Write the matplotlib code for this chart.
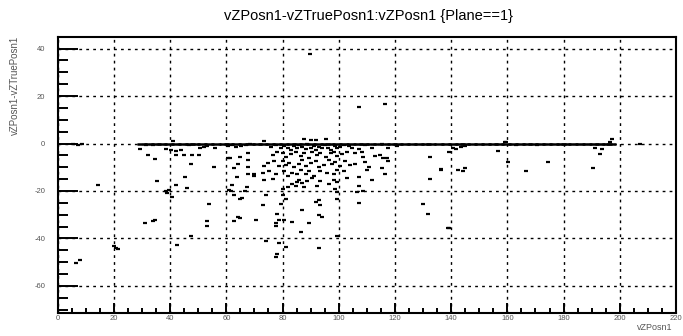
import matplotlib
matplotlib.use('Agg')
import matplotlib.pyplot as plt
from matplotlib.ticker import MultipleLocator

# vZPosn1 (x) vs vZPosn1 - vZTruePosn1 (y), Plane==1
# points sitting on the y=0 band
band_x = [30, 32.5, 35, 37, 39.5, 42, 44.5, 47, 49, 51.5, 54, 56.5, 59, 61, 63.5,
          66, 68.5, 71, 73, 75.5, 78, 80.5, 83, 85, 87.5, 90, 92.5, 95, 97, 99.5,
          102, 104.5, 107, 109, 111.5, 114, 116.5, 119, 121, 123.5, 126, 128.5,
          131, 133, 135.5, 138, 140.5, 143, 145, 147.5, 150, 152.5, 155, 157,
          159.5, 162, 164.5, 167, 169, 171.5, 174, 176.5, 179, 181, 183.5, 186,
          188.5, 191, 193, 195.5, 197]
band_y = [0.0] * len(band_x)

# scattered residuals
pts_x = [29.4, 31.4, 33.8, 32.0, 34.7, 35.3, 38.5, 40.2, 41.0, 42.0, 43.8, 42.0, 44.9,
         46.7, 47.3, 47.9, 50.2, 50.8, 52.0, 53.2, 55.5, 56.0, 45.3, 42.0, 45.9, 38.5,
         39.0, 39.6, 40.8, 53.8, 14.4, 31.2, 33.8, 34.6, 53.2, 53.2, 47.3, 42.6, 19.9,
         20.8, 21.4, 6.5, 8.1,
         60.6, 61.4, 64.9, 67.6, 67.6, 64.1, 62.6, 67.6, 67.6, 63.8, 70.0, 62.0, 67.3,
         66.5, 60.8, 61.8, 62.6, 64.9, 65.5, 64.1, 64.9, 62.6,
         60.6, 62.0, 63.5, 65.2, 67.0, 68.5, 5.5, 7.2, 8.8,
         73.5, 90.0, 95.3, 87.6, 91.8,
         75.9, 77.6, 79.4, 80.6, 81.8, 82.9, 84.1, 85.3, 85.9, 87.1, 88.2, 88.8, 90.0,
         91.2, 91.8, 92.9, 94.1, 95.1, 96.2, 97.4, 98.6, 99.4, 100.6, 101.8, 103.5,
         104.7, 107.1, 109.4, 111.8, 115.3, 117.6, 120.6,
         76.5, 78.2, 80.0, 81.2, 82.9, 84.7, 86.5, 87.6, 89.4, 90.6, 92.4, 93.5, 95.3,
         97.1, 98.2, 99.4, 101.2, 102.9, 105.9, 108.2, 108.8, 112.9, 114.7, 115.9, 117.1,
         73.5, 74.7, 77.1, 78.8, 80.0, 81.2, 82.4, 84.1, 85.9, 87.1, 88.5, 90.0, 91.8,
         92.9, 94.7, 96.5, 97.6, 98.8, 100.6, 102.4, 104.1, 105.9, 109.4, 110.6, 115.3,
         117.4,
         70.0, 72.9, 75.3, 77.6, 80.6, 81.8, 83.5, 85.3, 86.5, 88.2, 89.4, 91.2, 93.5,
         95.9, 98.2, 99.4, 101.8, 107.1, 110.0, 116.5, 132.4, 136.5,
         73.5, 76.5, 80.0, 81.8, 83.5, 84.7, 85.3, 85.9, 87.1, 87.6, 88.8, 90.6, 92.4,
         93.5, 96.5, 98.2, 99.4, 98.8, 99.4, 102.9, 107.1, 111.8, 132.4,
         74.1, 80.0, 79.4, 72.9, 81.2, 87.1, 91.8, 93.5, 92.9, 99.4, 106.5, 108.8, 107.1,
         130.0, 131.8,
         70.6, 78.2, 77.6, 78.8, 77.6, 80.6, 83.5, 89.4, 86.5, 92.9, 94.1, 99.4, 138.8,
         74.1, 78.8, 81.2, 77.6, 92.9, 78.2,
         140.6, 141.8, 143.6, 144.8, 139.4, 156.7, 159.0, 159.6, 163.2, 170.4, 160.2,
         174.5, 136.4, 142.4, 144.2, 144.8, 166.8, 190.6, 191.2, 193.6, 193.0, 197.1,
         196.5, 207.3, 139.4,
         89.6, 107.3, 116.3]
pts_y = [-2.4, -0.5, -0.6, -4.9, -6.5, -16.0, -2.4, -2.8, 1.0, -3.2, -2.8, -4.9, -4.9,
         -0.7, -8.8, -4.9, -4.9, -1.8, -1.4, -1.0, -9.7, -2.0, -14.3, -17.6, -18.8, -20.0,
         -20.8, -19.4, -22.6, -25.4, -17.6, -33.3, -32.6, -32.4, -32.6, -34.7, -38.9, -42.6,
         -43.0, -44.0, -44.4, -50.4, -49.0,
         -6.3, -6.0, -5.5, -4.2, -7.0, -8.8, -10.4, -10.1, -12.9, -14.3, -13.9, -17.6, -18.5,
         -19.9, -19.4, -20.1, -21.5, -23.2, -22.9, -31.0, -31.5, -32.6,
         -1.2, -0.8, -1.5, -1.0, -0.8, -0.4, -0.3, -0.6, -0.3,
         1.0, 1.4, 2.1, 1.8, 1.4,
         -1.4, -0.7, -2.1, -1.0, -1.8, -2.7, -1.0, -2.1, -0.7, -1.4, -2.3, -0.4, -1.8,
         -1.0, -2.7, -1.4, -2.1, -0.7, -1.8, -2.7, -1.0, -2.1, -1.4, -0.7, -1.0,
         -2.1, -2.3, -0.7, -1.8, -0.4, -2.1, -1.0,
         -4.8, -3.4, -4.1, -5.5, -4.5, -3.7, -5.1, -4.1, -5.9, -3.4, -4.8, -4.1, -5.5,
         -4.1, -3.4, -5.1, -4.5, -3.4, -4.1, -3.4, -5.5, -5.1, -4.8, -5.9, -6.2,
         -9.6, -8.2, -7.5, -9.6, -7.3, -8.9, -8.2, -10.0, -8.6, -6.8, -9.6, -8.2, -7.5,
         -10.0, -8.9, -6.8, -8.6, -7.8, -9.6, -7.3, -8.9, -8.6, -7.8, -10.0, -10.3,
         -7.3,
         -13.0, -12.3, -11.6, -13.0, -11.4, -13.7, -12.3, -12.7, -11.0, -13.0, -11.6, -13.7, -11.4,
         -12.3, -13.0, -11.0, -11.6, -14.1, -11.0, -12.7, -5.5, -10.7,
         -15.5, -15.1, -19.2, -18.5, -17.1, -17.8, -16.4, -15.5, -16.8, -18.5, -16.0, -14.4, -17.8,
         -15.8, -17.1, -15.5, -16.4, -19.2, -20.5, -14.4, -17.8, -15.5, -15.1,
         -21.9, -21.9, -25.3, -26.0, -23.3, -28.1, -24.7, -26.0, -24.0, -23.3, -20.5, -19.9, -25.1,
         -25.6, -29.5,
         -32.2, -29.5, -33.6, -32.2, -34.9, -32.2, -32.9, -33.3, -37.4, -30.1, -31.1, -39.0, -35.6,
         -41.1, -41.8, -43.4, -47.9, -44.2, -46.6,
         -2.1, -2.3, -1.4, -1.0, -3.4, -3.2, 0.7, 0.7, -0.7, -0.7, -7.8,
         -7.8, -11.0, -11.0, -11.6, -10.5, -11.6, -10.3, -1.8, -2.3, -4.5, 1.8,
         0.8, -0.4, -35.6,
         37.8, 15.3, 16.6]

title = 'vZPosn1-vZTruePosn1:vZPosn1 {Plane==1}'
xlabel = 'vZPosn1'
ylabel = 'vZPosn1-vZTruePosn1'

plt.rcParams['font.family'] = ['Liberation Sans', 'DejaVu Sans']
plt.rcParams['axes.unicode_minus'] = False

fig = plt.figure(figsize=(6.83, 3.36), dpi=100)
ax = fig.add_axes([0.0845, 0.0693, 0.9052, 0.8207])

ax.plot(band_x, band_y, linestyle='none', marker='_', ms=6.5, mew=1.8, color='black')
ax.plot(pts_x, pts_y, linestyle='none', marker='_', ms=3.2, mew=1.6, color='black')

ax.set_xlim(0, 220)
ax.set_ylim(-71.3, 44.9)
ax.xaxis.set_major_locator(MultipleLocator(20))
ax.xaxis.set_minor_locator(MultipleLocator(5))
ax.yaxis.set_major_locator(MultipleLocator(20))
ax.yaxis.set_minor_locator(MultipleLocator(5))

ax.grid(True, which='major', color='black', linestyle=(0, (2, 3)), linewidth=1.0)
ax.set_axisbelow(True)

ax.tick_params(axis='y', which='major', direction='in', length=14.4, width=1.4,
               labelsize=5.5, pad=9, labelcolor='#555555')
ax.tick_params(axis='y', which='minor', direction='in', length=7.2, width=1.4)
ax.tick_params(axis='x', which='major', direction='in', length=7.2, width=1.4,
               labelsize=5.5, pad=2, labelcolor='#555555')
ax.tick_params(axis='x', which='minor', direction='in', length=3.6, width=1.4)
for s in ax.spines.values():
    s.set_linewidth(1.5)

fig.text(0.54, 0.953, title, ha='center', va='center', fontsize=10.5)
fig.text(0.022, 0.895, ylabel, rotation=90, ha='center', va='top', fontsize=7, color='#555555')
fig.text(0.985, 0.025, xlabel, ha='right', va='center', fontsize=6.5, color='#555555')

fig.savefig('out.png', dpi=100)
